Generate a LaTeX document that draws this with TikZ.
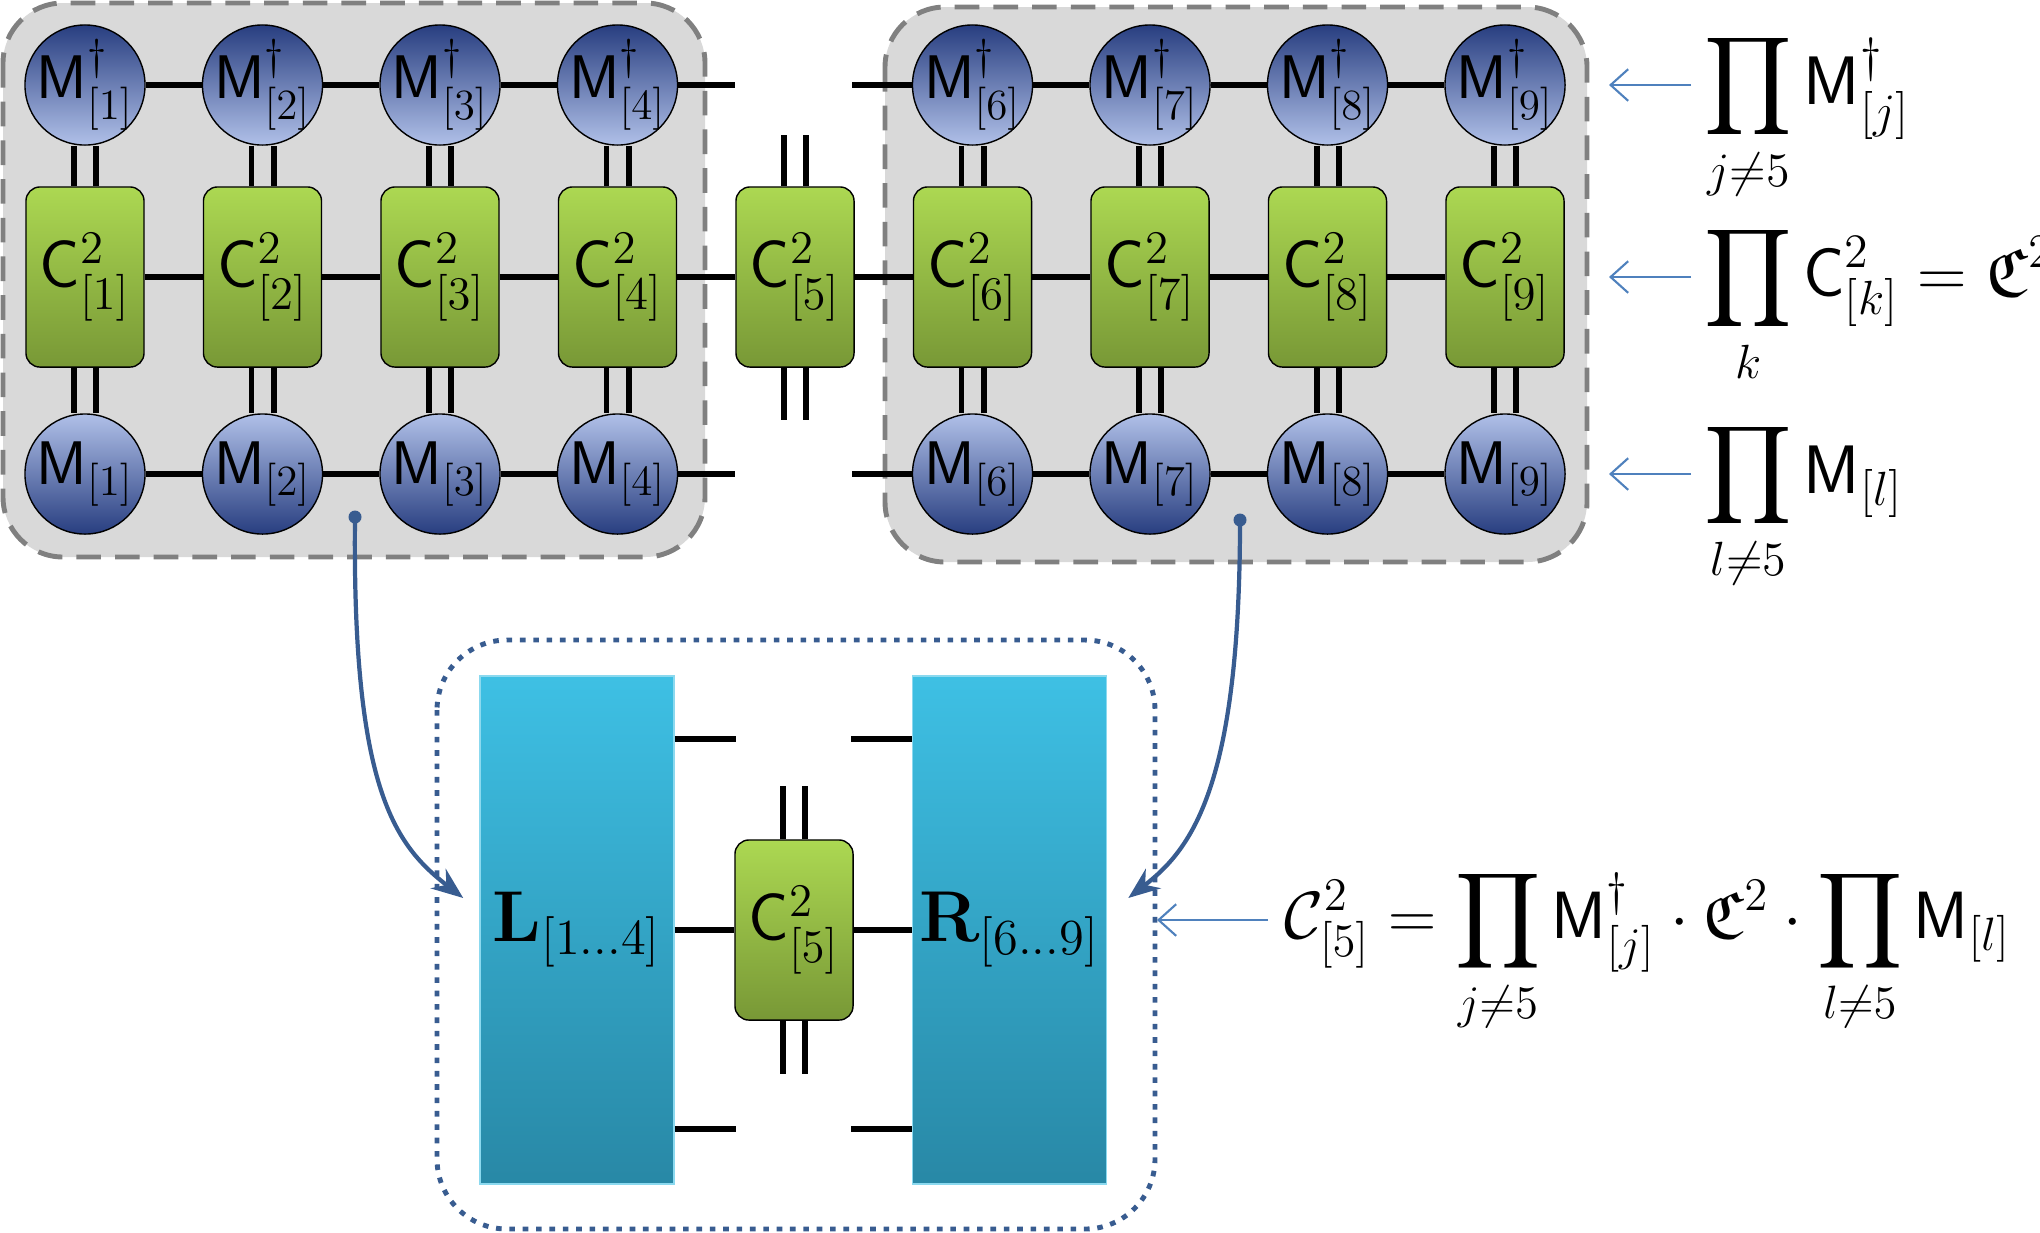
\RequirePackage{fix-cm}
\documentclass[tikz,border=0pt]{standalone}
\usepackage{amsmath}
\usepackage{amssymb}
\usepackage{xcolor}
\usetikzlibrary{arrows.meta, positioning}

\definecolor{mdark}{RGB}{40,62,128}
\definecolor{mlight}{RGB}{176,192,232}
\definecolor{cgtop}{RGB}{172,216,82}
\definecolor{cgbot}{RGB}{120,152,54}
\definecolor{lrtop}{RGB}{62,192,228}
\definecolor{lrbot}{RGB}{40,136,166}
\definecolor{panel}{RGB}{217,217,217}
\definecolor{panelline}{RGB}{128,128,128}
\definecolor{linkblue}{RGB}{56,92,144}
\definecolor{tagblue}{RGB}{79,129,189}

\tikzset{
  mdag/.style={circle, draw=black, thin, minimum size=1.2cm, inner sep=-3pt, top color=mdark, bottom color=mlight},
  mket/.style={circle, draw=black, thin, minimum size=1.2cm, inner sep=-3pt, top color=mlight, bottom color=mdark},
  cbox/.style={rectangle, rounded corners=0.14cm, draw=black, thin, minimum width=1.18cm, minimum height=1.8cm, inner sep=0pt, top color=cgtop, bottom color=cgbot, font=\fontsize{19}{22}\selectfont},
  envbox/.style={rectangle, minimum width=1.94cm, minimum height=5.08cm, inner sep=0pt, top color=lrtop, bottom color=lrbot, draw=lrtop!60!white, font=\fontsize{20.5}{24}\selectfont},
  panelbox/.style={draw=panelline, fill=panel, line width=1.4pt, rounded corners=0.6cm, dash pattern=on 7pt off 4pt},
  bond/.style={line width=1.7pt},
  tag/.style={-{Straight Barb[length=5pt,width=9pt]}, draw=tagblue, line width=0.6pt},
  link/.style={-{Stealth[length=9pt,width=7pt]}, draw=linkblue, line width=1.2pt},
  eqn/.style={anchor=base west, inner sep=0pt, font=\fontsize{19.5}{23}\selectfont}
}

\begin{document}
\begin{tikzpicture}[x=0.01cm, y=-0.01cm, font=\fontsize{17.5}{21}\selectfont]
  \useasboundingbox (0,0) rectangle (2040,1232);

  % environment panels
  \draw[panelbox] (3,3) rectangle (705,557);
  \draw[panelbox] (885,7) rectangle (1587,562);

  % the network
  \foreach \i in {1,...,9}{
    \pgfmathsetmacro{\xc}{85+(\i-1)*177.5}
    \node[cbox] (c\i) at (\xc,277) {$\mathsf{C}^2_{[\i]}$};
    \ifnum\i=5\else
      \node[mdag] (md\i) at (\xc,85) {$\mathsf{M}^\dagger_{[\i]}$};
      \node[mket] (mk\i) at (\xc,474) {$\mathsf{M}_{[\i]}$};
      \draw[bond] ([xshift=-0.11cm]md\i.south) -- ([xshift=-0.11cm]c\i.north);
      \draw[bond] ([xshift=0.11cm]md\i.south) -- ([xshift=0.11cm]c\i.north);
      \draw[bond] ([xshift=-0.11cm]c\i.south) -- ([xshift=-0.11cm]mk\i.north);
      \draw[bond] ([xshift=0.11cm]c\i.south) -- ([xshift=0.11cm]mk\i.north);
    \fi
  }
  \foreach \i/\j in {1/2,2/3,3/4,6/7,7/8,8/9}{
    \draw[bond] (md\i) -- (md\j);
    \draw[bond] (mk\i) -- (mk\j);
  }
  \foreach \i/\j in {1/2,2/3,3/4,4/5,5/6,6/7,7/8,8/9}
    \draw[bond] (c\i) -- (c\j);

  % open legs at site 5
  \coordinate (dagl) at (735,85);
  \coordinate (dagr) at (852,85);
  \coordinate (ketl) at (735,474);
  \coordinate (ketr) at (852,474);
  \draw[bond] (md4) -- (dagl);
  \draw[bond] (dagr) -- (md6);
  \draw[bond] (mk4) -- (ketl);
  \draw[bond] (ketr) -- (mk6);
  \coordinate (upl) at (784,135);
  \coordinate (upr) at (806,135);
  \coordinate (dnl) at (784,420);
  \coordinate (dnr) at (806,420);
  \draw[bond] (upl) -- (upl |- c5.north);
  \draw[bond] (upr) -- (upr |- c5.north);
  \draw[bond] (dnl |- c5.south) -- (dnl);
  \draw[bond] (dnr |- c5.south) -- (dnr);

  % right hand labels
  \node[eqn] (pdag) at (1704,104) {$\displaystyle\prod_{j\neq5}\mathsf{M}^\dagger_{[j]}$};
  \node[eqn] (pc) at (1704,296) {$\displaystyle\prod_{k}\mathsf{C}^2_{[k]}=\mathfrak{C}^2$};
  \node[eqn] (pket) at (1704,493) {$\displaystyle\prod_{l\neq5}\mathsf{M}_{[l]}$};
  \coordinate (tagdag) at (1691,85);
  \coordinate (tagc) at (1691,277);
  \coordinate (tagket) at (1691,474);
  \draw[tag] (tagdag) -- (1609,85);
  \draw[tag] (tagc) -- (1609,277);
  \draw[tag] (tagket) -- (1609,474);

  % contracted environment
  \draw[linkblue, line width=1.4pt, dash pattern=on 1.6pt off 2.2pt, rounded corners=0.7cm] (437,640) rectangle (1155,1229);
  \node[envbox] (L) at (577,930) {$\mathbf{L}_{[1\ldots4]}$};
  \node[envbox] (R) at (1009.5,930) {$\mathbf{R}_{[6\ldots9]}$};
  \node[cbox] (c5b) at (794,930) {$\mathsf{C}^2_{[5]}$};
  \draw[bond] (L) -- (c5b);
  \draw[bond] (c5b) -- (R);
  \draw[bond] ([yshift=1.91cm]L.east) -- ++(0.61cm,0);
  \draw[bond] ([yshift=-1.99cm]L.east) -- ++(0.61cm,0);
  \draw[bond] ([yshift=1.91cm]R.west) -- ++(-0.61cm,0);
  \draw[bond] ([yshift=-1.99cm]R.west) -- ++(-0.61cm,0);
  \draw[bond] ([xshift=-0.11cm]c5b.north) -- ++(0,0.53cm);
  \draw[bond] ([xshift=0.11cm]c5b.north) -- ++(0,0.53cm);
  \draw[bond] ([xshift=-0.11cm]c5b.south) -- ++(0,-0.53cm);
  \draw[bond] ([xshift=0.11cm]c5b.south) -- ++(0,-0.53cm);

  % links from the panels to L and R
  \coordinate (lsrc) at (355,517);
  \coordinate (rsrc) at (1240,520);
  \fill[linkblue] (lsrc) circle (0.065cm);
  \fill[linkblue] (rsrc) circle (0.065cm);
  \draw[link] (lsrc) .. controls (352,790) and (395,845) .. ([xshift=-0.16cm,yshift=0.32cm]L.west);
  \draw[link] (rsrc) .. controls (1240,790) and (1190,850) .. ([xshift=0.21cm,yshift=0.32cm]R.east);

  % formula for the effective tensor
  \node[eqn, font=\fontsize{19}{22}\selectfont] (pfull) at (1284,938) {$\displaystyle\mathcal{C}^2_{[5]}=\prod_{j\neq5}\mathsf{M}^\dagger_{[j]}\cdot\mathfrak{C}^2\cdot\prod_{l\neq5}\mathsf{M}_{[l]}$};
  \coordinate (tagfull) at (1268,920);
  \draw[tag] (tagfull) -- (1157,920);
\end{tikzpicture}
\end{document}
